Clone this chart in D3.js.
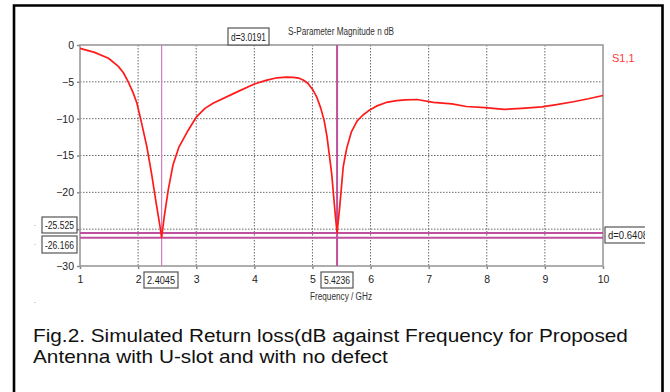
<!DOCTYPE html>
<html><head><meta charset="utf-8">
<script src="https://cdn.jsdelivr.net/npm/d3@7"></script>
<style>body{margin:0;background:#fff}svg{display:block}</style>
</head><body>
<svg id="c" width="670" height="392"></svg>
<script>
// ---- data ----
const freqGHz = [1.0, 1.25, 1.49, 1.66, 1.75, 1.83, 1.91, 1.98, 2.06, 2.15, 2.23, 2.32, 2.38, 2.4045, 2.45, 2.52, 2.6, 2.7, 2.86, 3.0, 3.15, 3.29, 3.64, 4.0, 4.2, 4.39, 4.55, 4.67, 4.77, 4.84, 4.92, 5.0, 5.07, 5.14, 5.2, 5.25, 5.33, 5.39, 5.4236, 5.47, 5.53, 5.59, 5.67, 5.77, 5.87, 5.97, 6.1, 6.27, 6.45, 6.6, 6.8, 7.08, 7.4, 7.65, 7.97, 8.3, 8.6, 8.95, 9.2, 9.49, 9.75, 10.0];
const s11dB   = [-0.45, -1.0, -1.8, -2.9, -3.8, -5.0, -6.4, -7.9, -10.6, -13.8, -17.4, -21.9, -24.8, -26.166, -23.3, -19.6, -16.3, -13.9, -11.6, -9.8, -8.6, -7.9, -6.6, -5.3, -4.8, -4.45, -4.35, -4.4, -4.5, -4.75, -5.2, -6.0, -7.0, -8.5, -10.2, -12.4, -17.4, -22.8, -25.525, -21.9, -16.5, -14.0, -11.8, -10.3, -9.5, -8.9, -8.3, -7.8, -7.55, -7.45, -7.4, -7.8, -8.0, -8.35, -8.5, -8.75, -8.6, -8.4, -8.1, -7.7, -7.3, -6.85];
const xTicks = [1, 2, 3, 4, 5, 6, 7, 8, 9, 10];
const yTicks = [0, -5, -10, -15, -20, -25, -30];
const markerFreqs = [2.4045, 5.4236];
const markerLevels = [-25.525, -26.166];
const markerFreqLabels = ["2.4045", "5.4236"];
const markerLevelLabels = ["-25.525", "-26.166"];
const deltaXLabel = "d=3.0191";
const deltaYLabel = "d=0.6408";
const titleText = "S-Parameter Magnitude n dB";
const xLabelText = "Frequency / GHz";
const seriesName = "S1,1";
const captionLines = ["Fig.2. Simulated Return loss(dB against Frequency for Proposed", "Antenna with U-slot and with no defect"];

// ---- drawing ----
const svg = d3.select("#c");
const L = 80, R = 603, T = 45, B = 266;
const x = d3.scaleLinear().domain([1, 10]).range([L, R]);
const y = d3.scaleLinear().domain([0, -30]).range([T, B]);
const narrow = "'Liberation Sans Narrow','Liberation Sans',Arial,sans-serif";

// outer frame (left, top, right)
svg.append("path")
  .attr("d", `M14,392 V5.5 H662.5 V392`)
  .attr("fill", "none").attr("stroke", "#000").attr("stroke-width", 2.6);

// grid
const g = svg.append("g");
g.selectAll(".vg").data(xTicks.filter(t => t > 1 && t < 10)).join("line")
  .attr("x1", d => x(d)).attr("x2", d => x(d)).attr("y1", T).attr("y2", B)
  .attr("stroke", "#6a6a6a").attr("stroke-width", 1).attr("stroke-dasharray", "1.5,1.5");
g.selectAll(".hg").data(yTicks.filter(t => t < 0 && t > -30)).join("line")
  .attr("x1", L).attr("x2", R).attr("y1", d => y(d)).attr("y2", d => y(d))
  .attr("stroke", "#6a6a6a").attr("stroke-width", 1).attr("stroke-dasharray", "1.5,1.5");

// axes via d3 (the -25 label is hidden under the marker boxes in the reference)
const xAxis = d3.axisBottom(x).tickValues(xTicks).tickSize(3).tickPadding(4).tickFormat(d3.format("d"));
const yAxis = d3.axisLeft(y).tickValues(yTicks).tickSize(3).tickPadding(3)
  .tickFormat(d => d === -25 ? "" : d3.format("d")(d));
const gx = svg.append("g").attr("transform", `translate(0,${B})`).call(xAxis);
const gy = svg.append("g").attr("transform", `translate(${L},0)`).call(yAxis);
[gx, gy].forEach(a => {
  a.select(".domain").remove();
  a.selectAll(".tick line").attr("stroke", "#888").attr("stroke-width", 1.5);
  a.selectAll(".tick text").attr("fill", "#222").style("font-family", narrow).style("font-size", "10.5px");
});
gx.selectAll(".tick text").attr("dy", "0.95em");

// plot frame
svg.append("rect").attr("x", L).attr("y", T).attr("width", R - L).attr("height", B - T)
  .attr("fill", "none").attr("stroke", "#9a9a9a").attr("stroke-width", 1.6);

// marker lines
const mcol = "#c0509e";
svg.selectAll(".mh").data(markerLevels).join("line")
  .attr("x1", L).attr("x2", R).attr("y1", d => y(d)).attr("y2", d => y(d))
  .attr("stroke", mcol).attr("stroke-width", 2);
svg.selectAll(".mv").data(markerFreqs).join("line")
  .attr("x1", d => x(d)).attr("x2", d => x(d)).attr("y1", T).attr("y2", B)
  .attr("stroke", (d, i) => i === 0 ? "#d27cc0" : mcol).attr("stroke-width", (d, i) => i === 0 ? 1.2 : 2);

// curve
const line = d3.line().x((d, i) => x(freqGHz[i])).y(d => y(d)).curve(d3.curveLinear);
svg.append("path").datum(s11dB).attr("d", line)
  .attr("fill", "none").attr("stroke", "#ff1a1a").attr("stroke-width", 1.7).attr("stroke-linejoin", "round");

// boxed labels
function box(x0, y0, w, h, txt, clipW, tw) {
  const gg = svg.append("g");
  if (clipW) {
    const id = "clip" + Math.round(x0);
    svg.append("clipPath").attr("id", id).append("rect").attr("x", x0 - 2).attr("y", y0 - 2).attr("width", clipW + 2).attr("height", h + 4);
    gg.attr("clip-path", `url(#${id})`);
  }
  gg.append("rect").attr("x", x0).attr("y", y0).attr("width", w).attr("height", h)
    .attr("fill", "#fff").attr("stroke", "#555").attr("stroke-width", 1.2);
  gg.append("text").attr("x", x0 + 3).attr("y", y0 + h / 2 + 4)
    .attr("textLength", tw || (w - 6)).attr("lengthAdjust", "spacingAndGlyphs")
    .attr("fill", "#222").style("font-family", narrow).style("font-size", "11px").text(txt);
}
box(42, 217, 35, 16, markerLevelLabels[0]);
box(42, 236, 35, 17, markerLevelLabels[1]);
box(144, 272, 34, 16, markerFreqLabels[0]);
box(321, 272, 32, 16, markerFreqLabels[1]);
box(228, 28, 41, 17, deltaXLabel);
box(605, 227, 46, 16, deltaYLabel, 40, 40);

// small marker dots at the far left
svg.selectAll(".dot").data([225, 244, 302]).join("rect")
  .attr("x", 34.5).attr("y", d => d).attr("width", 1).attr("height", 1).attr("fill", "#aaa");

// title, axis label, legend
svg.append("text").attr("x", 288).attr("y", 35).attr("textLength", 106).attr("lengthAdjust", "spacingAndGlyphs")
  .attr("fill", "#333").style("font-family", narrow).style("font-size", "10px").text(titleText);
svg.append("text").attr("x", 310).attr("y", 300).attr("textLength", 62).attr("lengthAdjust", "spacingAndGlyphs")
  .attr("fill", "#333").style("font-family", narrow).style("font-size", "10px").text(xLabelText);
svg.append("text").attr("x", 612).attr("y", 62)
  .attr("fill", "#ff3a3a").style("font-family", narrow).style("font-size", "11px").text(seriesName);

// caption
const cap = svg.append("g").attr("transform", "translate(33,0) scale(1.155,1)");
cap.selectAll("text").data(captionLines).join("text")
  .attr("x", 0).attr("y", (d, i) => 342 + i * 21.5)
  .attr("fill", "#111").style("font-family", "'Liberation Sans',Arial,sans-serif").style("font-size", "18px").text(d => d);
</script>
</body></html>
